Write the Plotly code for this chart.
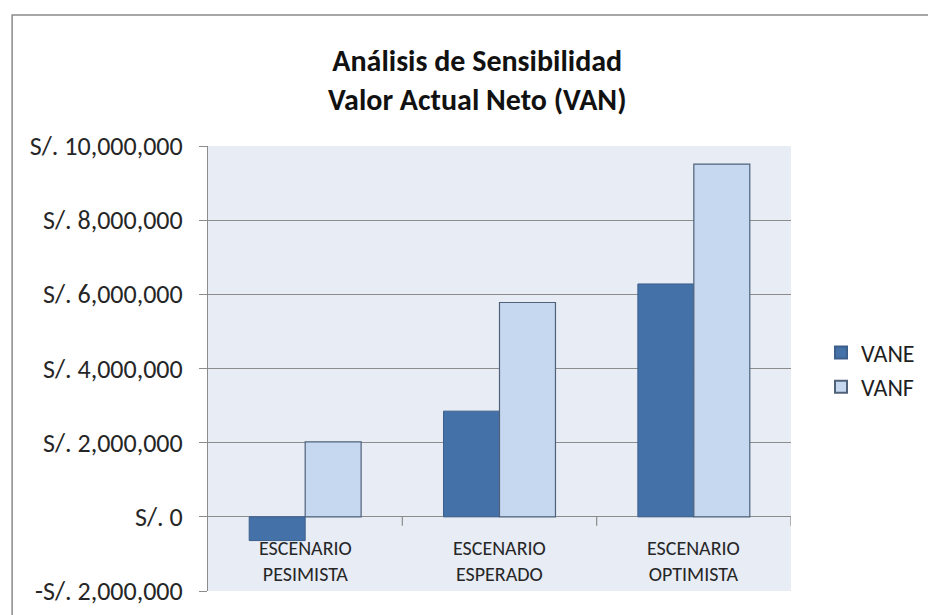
import plotly.graph_objects as go

# Escenarios del análisis de sensibilidad
escenarios = ["ESCENARIO<br>PESIMISTA", "ESCENARIO<br>ESPERADO", "ESCENARIO<br>OPTIMISTA"]
vane = [-640000, 2850000, 6280000]
vanf = [2020000, 5780000, 9510000]
ticks_y = [-2000000, 0, 2000000, 4000000, 6000000, 8000000, 10000000]
titulo = "Análisis de Sensibilidad<br>Valor Actual Neto (VAN)"


def soles(v):
    s = "S/. {:,}".format(abs(v))
    return "-" + s if v < 0 else s


FONT = "Carlito, Calibri, Lato, sans-serif"
GRID = "#8c8c8c"
W, H = 928, 615
M = dict(l=208, r=137, t=146, b=24)
PLOT_H = H - M["t"] - M["b"]


def paper_y(px):
    # pixel row (from top) -> paper fraction
    return (H - M["b"] - px) / PLOT_H


x_idx = list(range(len(escenarios)))

fig = go.Figure()
fig.add_trace(go.Bar(
    x=x_idx, y=vane, name="VANE",
    marker=dict(color="#4571a9", line=dict(color="#3c5f8c", width=1)),
))
fig.add_trace(go.Bar(
    x=x_idx, y=vanf, name="VANF",
    marker=dict(color="#c6d8ef", line=dict(color="#4f627a", width=1.2)),
))

# Etiquetas de categoría bajo la línea de cero
for i, lab in enumerate(escenarios):
    fig.add_annotation(
        x=i, y=0, xref="x", yref="y", text=lab, showarrow=False,
        yanchor="middle", yshift=-44, align="center",
        font=dict(family=FONT, size=20, color="#262626"),
    )

# Título
fig.add_annotation(
    x=0.461, xref="paper", xanchor="center",
    y=paper_y(80.5), yref="paper", yanchor="middle",
    showarrow=False, align="center",
    text="<b>" + titulo + "</b>",
    font=dict(family=FONT, size=30, color="#111111"),
)

# Marcas de separación entre categorías sobre el eje horizontal
for i in x_idx:
    fig.add_shape(
        type="line", xref="x", yref="y", x0=i + 0.5, x1=i + 0.5,
        y0=0, y1=-9, ysizemode="pixel", yanchor=0,
        line=dict(color=GRID, width=1.2),
    )

# Marco exterior del gráfico
fig.add_shape(
    type="path", xref="paper", yref="paper",
    path="M -0.336,-0.2 L -0.336,%.4f L 1.3,%.4f" % (paper_y(15), paper_y(15)),
    line=dict(color="#8a8a8a", width=1.5),
)

fig.update_layout(
    width=W, height=H,
    margin=dict(**M, autoexpand=False),
    paper_bgcolor="white",
    plot_bgcolor="#e7ecf5",
    barmode="group", bargap=0.424, bargroupgap=0,
    font=dict(family=FONT, color="#1f1f1f"),
    legend=dict(
        x=(821 - 208) / 583, y=0.497, xanchor="left", yanchor="middle",
        font=dict(family=FONT, size=24, color="#1f1f1f"),
        bgcolor="rgba(0,0,0,0)", traceorder="normal",
        itemsizing="constant", tracegroupgap=0,
    ),
    xaxis=dict(
        range=[-0.5, 2.5], showticklabels=False, showgrid=False,
        zeroline=False, showline=False, ticks="", fixedrange=True,
        automargin=False,
    ),
    yaxis=dict(
        range=[-2000000, 10000000], automargin=False,
        tickvals=ticks_y, ticktext=[soles(v) for v in ticks_y],
        showgrid=True, gridcolor=GRID, gridwidth=1.2,
        zeroline=False, showline=True, linecolor=GRID, linewidth=1.2,
        ticks="outside", ticklen=8, tickcolor=GRID, tickwidth=1.2,
        tickfont=dict(family=FONT, size=26, color="#262626"),
        ticklabelstandoff=11,
    ),
)

fig.write_html("out.html")
